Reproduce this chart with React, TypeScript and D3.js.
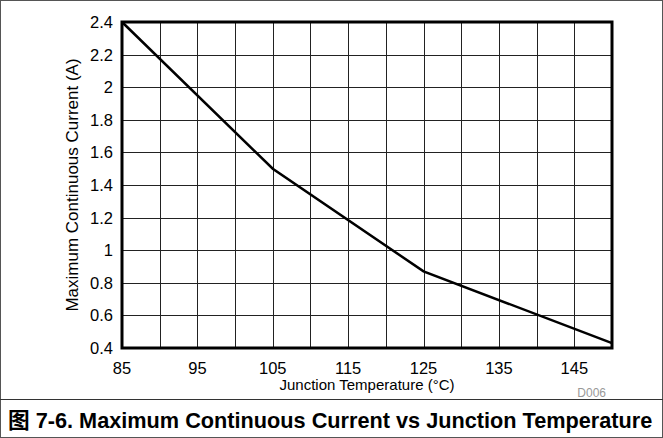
import React, { useRef, useEffect } from 'react';
import * as d3 from 'd3';

const temps = [85, 105, 125, 150];
const currents = [2.4, 1.5, 0.87, 0.43];
const xTicks = [85, 95, 105, 115, 125, 135, 145];
const yTicks = [0.4, 0.6, 0.8, 1, 1.2, 1.4, 1.6, 1.8, 2, 2.2, 2.4];
const xGrid = d3.range(85, 151, 5);

const W = 663;
const H = 438;
const font = 'Liberation Sans, Arial, sans-serif';

const App = () => {
  const ref = useRef<SVGSVGElement>(null);

  useEffect(() => {
    const svg = d3.select(ref.current);
    svg.selectAll('*').remove();

    const left = 122, right = 612, top = 22, bottom = 348;

    const x = d3.scaleLinear().domain([85, 150]).range([left, right]);
    const y = d3.scaleLinear().domain([0.4, 2.4]).range([bottom, top]);

    svg.append('rect')
      .attr('x', 0.5).attr('y', 0.5)
      .attr('width', W - 1).attr('height', H - 1)
      .attr('fill', 'white').attr('stroke', '#555');

    svg.append('line')
      .attr('x1', 0).attr('x2', W)
      .attr('y1', 399.5).attr('y2', 399.5)
      .attr('stroke', '#333');

    const grid = svg.append('g').attr('stroke', '#222').attr('stroke-width', 1);
    grid.selectAll('.vx')
      .data(xGrid)
      .enter().append('line')
      .attr('x1', d => Math.round(x(d)) + 0.5).attr('x2', d => Math.round(x(d)) + 0.5)
      .attr('y1', top).attr('y2', bottom);
    grid.selectAll('.hy')
      .data(yTicks)
      .enter().append('line')
      .attr('y1', d => Math.round(y(d)) + 0.5).attr('y2', d => Math.round(y(d)) + 0.5)
      .attr('x1', left).attr('x2', right);

    const line = d3.line<number>()
      .x((d, i) => x(temps[i]))
      .y(d => y(d));

    svg.append('path')
      .datum(currents)
      .attr('d', line)
      .attr('fill', 'none')
      .attr('stroke', 'black')
      .attr('stroke-width', 2.5);

    svg.append('rect')
      .attr('x', left).attr('y', top)
      .attr('width', right - left).attr('height', bottom - top)
      .attr('fill', 'none').attr('stroke', 'black').attr('stroke-width', 3);

    svg.append('g')
      .selectAll('text')
      .data(yTicks)
      .enter().append('text')
      .attr('x', left - 9)
      .attr('y', d => y(d))
      .attr('dy', '0.36em')
      .attr('text-anchor', 'end')
      .attr('font-family', font)
      .attr('font-size', 16.5)
      .text(d => d3.format('~g')(d));

    svg.append('g')
      .selectAll('text')
      .data(xTicks)
      .enter().append('text')
      .attr('x', d => x(d))
      .attr('y', bottom + 26)
      .attr('text-anchor', 'middle')
      .attr('font-family', font)
      .attr('font-size', 16.5)
      .text(d => d);

    svg.append('text')
      .attr('x', 367)
      .attr('y', bottom + 42)
      .attr('text-anchor', 'middle')
      .attr('font-family', font)
      .attr('font-size', 15)
      .text('Junction Temperature (°C)');

    svg.append('text')
      .attr('transform', `translate(78, ${(top + bottom) / 2}) rotate(-90)`)
      .attr('text-anchor', 'middle')
      .attr('font-family', font)
      .attr('font-size', 17)
      .text('Maximum Continuous Current (A)');

    svg.append('text')
      .attr('x', 606)
      .attr('y', 397)
      .attr('text-anchor', 'end')
      .attr('font-family', font)
      .attr('font-size', 12)
      .attr('fill', '#999')
      .text('D006');

    svg.append('text')
      .attr('x', 8)
      .attr('y', 428)
      .attr('font-family', 'Liberation Sans, Arial, Noto Sans CJK SC, sans-serif')
      .attr('font-size', 21.7)
      .attr('font-weight', 'bold')
      .text('图 7-6. Maximum Continuous Current vs Junction Temperature');
  }, []);

  return (
    <div style={{ position: 'absolute', left: 0, top: 0 }}>
      <svg ref={ref} width={W} height={H} style={{ display: 'block' }}></svg>
    </div>
  );
};

export default App;
